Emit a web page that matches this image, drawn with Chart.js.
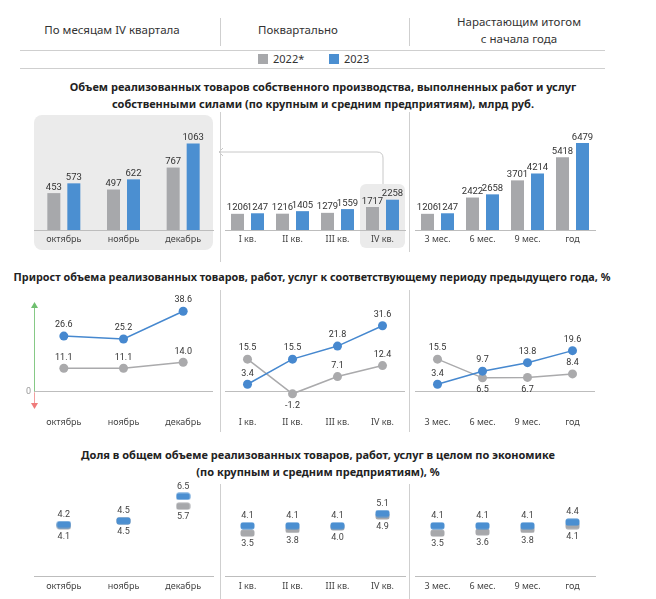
<!DOCTYPE html>
<html>
<head>
<meta charset="utf-8">
<script src="https://cdn.jsdelivr.net/npm/chart.js@4.4.1/dist/chart.umd.min.js"></script>
<style>
  html, body { margin: 0; padding: 0; background: #fff; }
  #page { position: relative; width: 656px; height: 599px; overflow: hidden; font-family: "Noto Sans", sans-serif; color: #333; }
  .t { position: absolute; white-space: nowrap; text-align: center; transform: translateX(-50%); }
  .hdr { font-size: 11.5px; line-height: 17px; color: #333; }
  .ttl { font-size: 11px; font-weight: bold; line-height: 17px; color: #222; }
  .ln { position: absolute; background: #cfcfcf; }
  .box { position: absolute; background: #ebebeb; }
  canvas { position: absolute; }
  .lg { position: absolute; font-size: 11px; line-height: 14px; color: #333; }
  .sw { position: absolute; width: 10px; height: 10px; }
</style>
</head>
<body>
<div id="page">
  <!-- header -->
  <div class="t hdr" style="left:112px; top:21px;">По месяцам IV квартала</div>
  <div class="t hdr" style="left:298px; top:21px;">Поквартально</div>
  <div class="t hdr" style="left:519px; top:13px;">Нарастающим итогом<br>с начала года</div>
  <div class="ln" style="left:220px; top:18px; width:1px; height:28px;"></div>
  <div class="ln" style="left:409px; top:18px; width:1px; height:28px;"></div>
  <div class="ln" style="left:20px; top:50px; width:585px; height:1px;"></div>
  <div class="ln" style="left:20px; top:68px; width:585px; height:1px;"></div>
  <div class="sw" style="left:258px; top:54px; background:#a7a8ab;"></div>
  <div class="lg" style="left:273px; top:52px;">2022*</div>
  <div class="sw" style="left:329px; top:54px; background:#4b8fd1;"></div>
  <div class="lg" style="left:344px; top:52px;">2023</div>

  <div class="t ttl" style="left:323px; top:78px;">Объем реализованных товаров собственного производства, выполненных работ и услуг<br>собственными силами (по крупным и средним предприятиям), млрд руб.</div>
  <div class="t ttl" style="left:312px; top:268px; font-size:10.8px;">Прирост объема реализованных товаров, работ, услуг к соответствующему периоду предыдущего года, %</div>
  <div class="t ttl" style="left:318px; top:446px;">Доля в общем объеме реализованных товаров, работ, услуг в целом по экономике<br>(по крупным и средним предприятиям), %</div>

  <!-- backgrounds -->
  <div class="box" style="left:34px; top:115px; width:179px; height:135px; border-radius:8px;"></div>
  <div class="box" style="left:360px; top:184px; width:45px; height:64px; border-radius:6px;"></div>
  <svg style="position:absolute; left:0; top:0;" width="656" height="599">
    <path d="M383 184 L383 158 Q383 152 377 152 L219 152" fill="none" stroke="#c8c8c8" stroke-width="1"/>
    <path d="M223 148 L219 152 L223 156" fill="none" stroke="#c8c8c8" stroke-width="1"/>
  </svg>

  <!-- column separators -->
  <div class="ln" style="left:220px; top:112px; width:1px; height:150px;"></div>
  <div class="ln" style="left:409px; top:112px; width:1px; height:140px;"></div>
  <div class="ln" style="left:220px; top:290px; width:1px; height:142px;"></div>
  <div class="ln" style="left:409px; top:290px; width:1px; height:142px;"></div>
  <div class="ln" style="left:220px; top:484px; width:1px; height:115px;"></div>
  <div class="ln" style="left:409px; top:484px; width:1px; height:115px;"></div>
</div>
<script>
// ---------- data ----------
const months = ['октябрь', 'ноябрь', 'декабрь'];
const quarters = ['I кв.', 'II кв.', 'III кв.', 'IV кв.'];
const cumulative = ['3 мес.', '6 мес.', '9 мес.', 'год'];

const vol2022Month = [453, 497, 767];
const vol2023Month = [573, 622, 1063];
const vol2022Quarter = [1206, 1216, 1279, 1717];
const vol2023Quarter = [1247, 1405, 1559, 2258];
const vol2022Cumul = [1206, 2422, 3701, 5418];
const vol2023Cumul = [1247, 2658, 4214, 6479];

const growth2022Month = [11.1, 11.1, 14.0];
const growth2023Month = [26.6, 25.2, 38.6];
const growth2022Quarter = [15.5, -1.2, 7.1, 12.4];
const growth2023Quarter = [3.4, 15.5, 21.8, 31.6];
const growth2022Cumul = [15.5, 6.5, 6.7, 8.4];
const growth2023Cumul = [3.4, 9.7, 13.8, 19.6];

const share2022Month = [4.1, 4.5, 5.7];
const share2023Month = [4.2, 4.5, 6.5];
const share2022Quarter = [3.5, 3.8, 4.0, 4.9];
const share2023Quarter = [4.1, 4.1, 4.1, 5.1];
const share2022Cumul = [3.5, 3.6, 3.8, 4.1];
const share2023Cumul = [4.1, 4.1, 4.1, 4.4];

// ---------- styles ----------
const GREY = '#a7a8ab';
const BLUE = '#4b8fd1';
const GREY_LINE = '#aaaaac';
const BLUE_LINE = '#4688cf';
const AXIS = '#bdbdbd';
const NUM_FONT = 'Roboto, "Noto Sans", sans-serif';

const cols = [{ l: 34, r: 213 }, { l: 225, r: 405 }, { l: 415, r: 595 }];
const rows = [
  { canvasTop: 110, areaTop: 116, areaBottom: 230, axisH: 20, tickPad: 4 },
  { canvasTop: 290, areaTop: 300, areaBottom: 410, axisH: 22, tickPad: 7 },
  { canvasTop: 470, areaTop: 478, areaBottom: 576, axisH: 22, tickPad: 5 }
];
const SIDE = 14;

const valueLabels = {
  id: 'valueLabels',
  afterDatasetsDraw(chart, args, opts) {
    const ctx = chart.ctx;
    chart.data.datasets.forEach((ds, i) => {
      const meta = chart.getDatasetMeta(i);
      meta.data.forEach((el, j) => {
        const v = ds.data[j];
        const txt = opts.decimals ? v.toFixed(opts.decimals) : String(v);
        const pos = ds.labelPos ? ds.labelPos[j] : 'a';
        ctx.save();
        ctx.font = opts.font;
        ctx.fillStyle = opts.color;
        ctx.textAlign = 'center';
        if (meta.type === 'bar') {
          ctx.textBaseline = 'bottom';
          ctx.fillText(txt, el.x, el.y - 1);
        } else {
          ctx.textBaseline = 'middle';
          ctx.fillText(txt, el.x, pos === 'b' ? el.y + opts.below : el.y - opts.above);
        }
        ctx.restore();
      });
    });
  }
};

const zeroLine = {
  id: 'zeroLine',
  beforeDatasetsDraw(chart, args, opts) {
    if (!opts || !opts.enabled) return;
    const ctx = chart.ctx;
    const ca = chart.chartArea;
    const y0 = chart.scales.y.getPixelForValue(0);
    ctx.save();
    ctx.strokeStyle = AXIS;
    ctx.lineWidth = 1;
    ctx.beginPath();
    ctx.moveTo(ca.left, Math.round(y0) + 0.5);
    ctx.lineTo(ca.right, Math.round(y0) + 0.5);
    ctx.stroke();
    if (opts.arrow) {
      const x = ca.left + 0.5;
      const top = ca.top + 3, bot = ca.bottom - 2;
      ctx.strokeStyle = '#86c986';
      ctx.beginPath(); ctx.moveTo(x, y0); ctx.lineTo(x, top + 4); ctx.stroke();
      ctx.fillStyle = '#6fbf6f';
      ctx.beginPath(); ctx.moveTo(x - 3.5, top + 5); ctx.lineTo(x + 3.5, top + 5); ctx.lineTo(x, top - 1); ctx.closePath(); ctx.fill();
      ctx.strokeStyle = '#f3a0a0';
      ctx.beginPath(); ctx.moveTo(x, y0 + 1); ctx.lineTo(x, bot - 4); ctx.stroke();
      ctx.fillStyle = '#ef7b7b';
      ctx.beginPath(); ctx.moveTo(x - 3.5, bot - 5); ctx.lineTo(x + 3.5, bot - 5); ctx.lineTo(x, bot + 1); ctx.closePath(); ctx.fill();
      ctx.fillStyle = '#999';
      ctx.font = '9px ' + NUM_FONT;
      ctx.textAlign = 'right';
      ctx.textBaseline = 'middle';
      ctx.fillText('0', ca.left - 3, y0);
    }
    ctx.restore();
  }
};

function pill(color) {
  const c = document.createElement('canvas');
  c.width = 15; c.height = 8;
  const g = c.getContext('2d');
  g.fillStyle = color;
  const x = 0.5, y = 0.5, w = 14, h = 7, r = 2.5;
  g.beginPath();
  g.moveTo(x + r, y); g.lineTo(x + w - r, y); g.quadraticCurveTo(x + w, y, x + w, y + r);
  g.lineTo(x + w, y + h - r); g.quadraticCurveTo(x + w, y + h, x + w - r, y + h);
  g.lineTo(x + r, y + h); g.quadraticCurveTo(x, y + h, x, y + h - r);
  g.lineTo(x, y + r); g.quadraticCurveTo(x, y, x + r, y);
  g.closePath(); g.fill();
  return c;
}

function makeCanvas(r, c) {
  const row = rows[r], col = cols[c];
  const cv = document.createElement('canvas');
  const w = (col.r - col.l) + 2 * SIDE;
  const h = row.areaBottom - row.canvasTop + row.axisH;
  cv.width = w; cv.height = h;
  cv.style.left = (col.l - SIDE) + 'px';
  cv.style.top = row.canvasTop + 'px';
  cv.style.width = w + 'px';
  cv.style.height = h + 'px';
  document.getElementById('page').appendChild(cv);
  return cv;
}

function baseOptions(r, yMin, yMax, showBorder, extraPlugins) {
  const row = rows[r];
  return {
    responsive: false,
    animation: false,
    devicePixelRatio: 1,
    layout: { padding: { left: SIDE, right: SIDE, top: row.areaTop - row.canvasTop, bottom: 0 } },
    plugins: Object.assign({ legend: { display: false }, tooltip: { enabled: false } }, extraPlugins),
    scales: {
      x: {
        offset: true,
        grid: { display: false, drawTicks: false, tickLength: 0 },
        border: { display: showBorder, color: AXIS, width: 1 },
        ticks: { color: '#444', padding: row.tickPad, font: { family: '"Noto Sans", sans-serif', size: 9 }, maxRotation: 0, autoSkip: false },
        afterFit: (s) => { s.height = row.axisH; }
      },
      y: { display: false, min: yMin, max: yMax }
    }
  };
}

// ---------- row 1: bars ----------
function barChart(c, labels, d22, d23, yMax, catPct) {
  const cv = makeCanvas(0, c);
  const opts = baseOptions(0, 0, yMax, true, {
    valueLabels: { font: '9.5px ' + NUM_FONT, color: '#333' }
  });
  new Chart(cv, {
    type: 'bar',
    data: {
      labels,
      datasets: [
        { data: d22, backgroundColor: GREY, categoryPercentage: catPct, barPercentage: 0.65 },
        { data: d23, backgroundColor: BLUE, categoryPercentage: catPct, barPercentage: 0.65 }
      ]
    },
    options: opts,
    plugins: [valueLabels]
  });
}
barChart(0, months, vol2022Month, vol2023Month, 1400, 40 / 59.67);
barChart(1, quarters, vol2022Quarter, vol2023Quarter, 8500, 40 / 45);
barChart(2, cumulative, vol2022Cumul, vol2023Cumul, 8500, 40 / 45);

// ---------- row 2: growth lines ----------
function growthChart(c, labels, d22, d23, pos22, pos23, arrow) {
  const cv = makeCanvas(1, c);
  const opts = baseOptions(1, -9, 44, false, {
    valueLabels: { font: '9px ' + NUM_FONT, color: '#333', decimals: 1, above: 11, below: 12 },
    zeroLine: { enabled: true, arrow }
  });
  new Chart(cv, {
    type: 'line',
    data: {
      labels,
      datasets: [
        { data: d23, borderColor: BLUE_LINE, backgroundColor: BLUE_LINE, borderWidth: 1.5, pointRadius: 4.5, pointBorderWidth: 0, labelPos: pos23, order: 0 },
        { data: d22, borderColor: GREY_LINE, backgroundColor: GREY_LINE, borderWidth: 1.5, pointRadius: 4.5, pointBorderWidth: 0, labelPos: pos22, order: 1 }
      ]
    },
    options: opts,
    plugins: [zeroLine, valueLabels]
  });
}
growthChart(0, months, growth2022Month, growth2023Month, ['a', 'a', 'a'], ['a', 'a', 'a'], true);
growthChart(1, quarters, growth2022Quarter, growth2023Quarter, ['a', 'b', 'a', 'a'], ['a', 'a', 'a', 'a'], false);
growthChart(2, cumulative, growth2022Cumul, growth2023Cumul, ['a', 'b', 'b', 'a'], ['a', 'a', 'a', 'a'], false);

// ---------- row 3: share markers ----------
const pillBlue = pill(BLUE);
const pillGrey = pill(GREY);
function shareChart(c, labels, d22, d23) {
  const cv = makeCanvas(2, c);
  const opts = baseOptions(2, 0, 8, true, {
    valueLabels: { font: '9px ' + NUM_FONT, color: '#444', decimals: 1, above: 10, below: 11 }
  });
  new Chart(cv, {
    type: 'line',
    data: {
      labels,
      datasets: [
        { data: d23, showLine: false, pointStyle: pillBlue, pointRadius: 5, labelPos: labels.map(() => 'a'), order: 0 },
        { data: d22, showLine: false, pointStyle: pillGrey, pointRadius: 5, labelPos: labels.map(() => 'b'), order: 1 }
      ]
    },
    options: opts,
    plugins: [valueLabels]
  });
}
shareChart(0, months, share2022Month, share2023Month);
shareChart(1, quarters, share2022Quarter, share2023Quarter);
shareChart(2, cumulative, share2022Cumul, share2023Cumul);
</script>
</body>
</html>
